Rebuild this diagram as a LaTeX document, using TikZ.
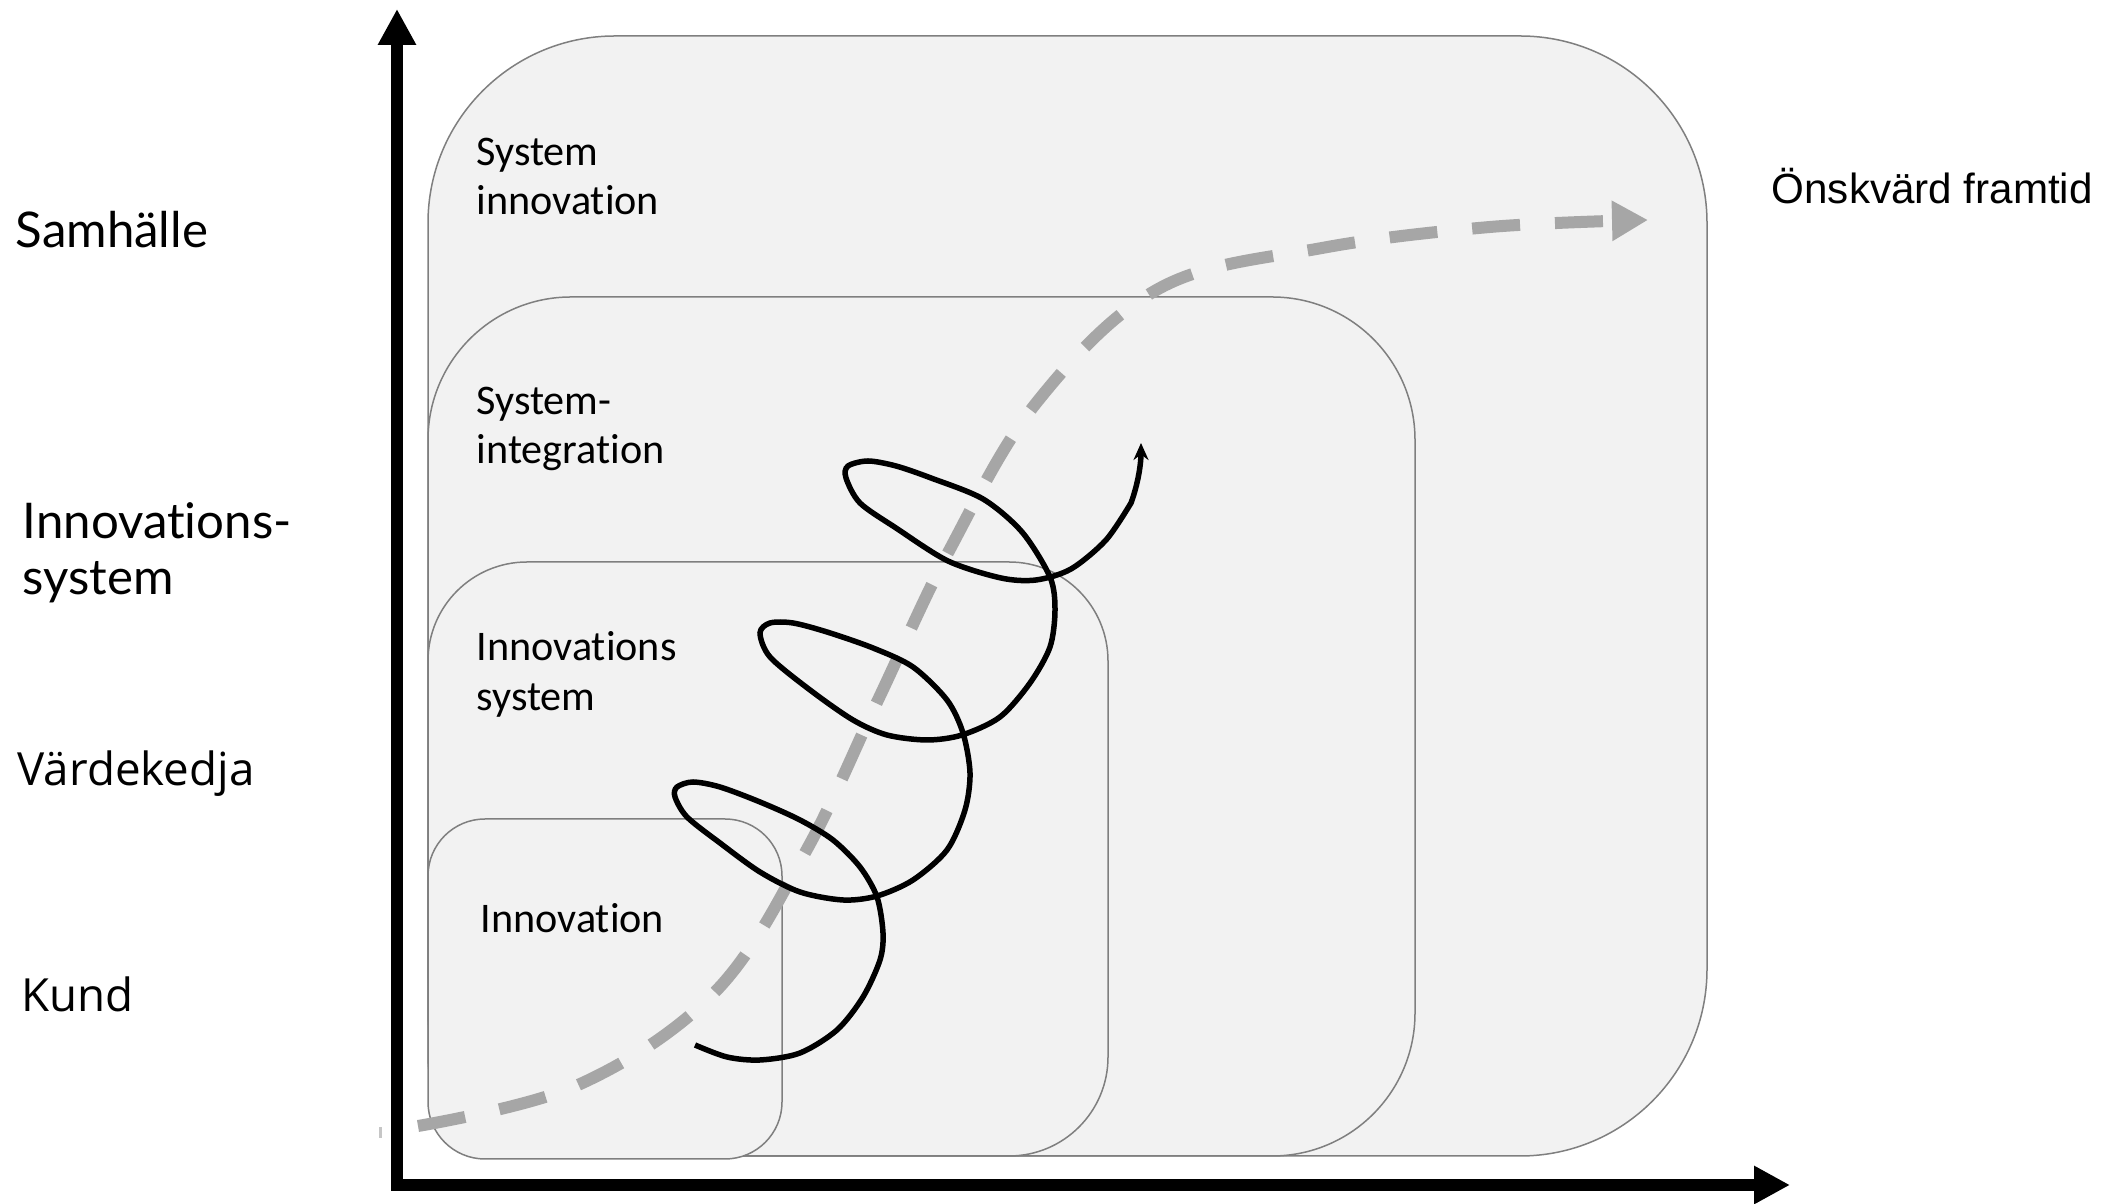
\documentclass[tikz,border=0pt]{standalone}
\usepackage{fontspec}
\setmainfont{Carlito}[Ligatures=NoCommon]
\newfontfamily\latofont{Lato}[Ligatures=NoCommon]
\newfontfamily\opensansfont{Open Sans}
\newfontfamily\arialfont{Liberation Sans}
\usetikzlibrary{arrows.meta}

\definecolor{boxfill}{HTML}{F2F2F2}
\definecolor{boxline}{HTML}{7F7F7F}
\definecolor{trendgray}{HTML}{A6A6A6}

\begin{document}
\begin{tikzpicture}[
        box/.style={draw=boxline, fill=boxfill, line width=0.15mm},
        boxtext/.style={inner sep=0pt, align=left, font=\fontsize{12}{14.2}\selectfont},
        leveltext/.style={inner sep=0pt, anchor=base west, font=\opensansfont\fontsize{13}{15.6}\selectfont},
        axis/.style={line width=1.15mm, {Triangle[length=3.6mm, width=3.6mm]}-{Triangle[length=3.6mm, width=3.6mm]}},
        trend/.style={trendgray, line width=1.2mm, dash pattern=on 4.8mm off 3.5mm, -{Triangle[length=3.6mm, width=3.8mm]}},
        spiral/.style={line width=0.55mm, -{Stealth[length=1.7mm, width=1.5mm]}}
    ]
    \useasboundingbox (0,0) rectangle (21.13,12.04);

    % levels, biggest first
    \draw[box, rounded corners=1.87cm] (4.28,0.48) rectangle (17.07,11.68);
    \draw[box, rounded corners=1.43cm] (4.28,0.48) rectangle (14.15,9.07);
    \draw[box, rounded corners=0.99cm] (4.28,0.48) rectangle (11.08,6.42);
    \draw[box, rounded corners=0.57cm] (4.28,0.45) rectangle (7.82,3.85);

    \node[boxtext, anchor=north west] (sysinnov) at (4.76,10.67) {System\\innovation};
    \node[boxtext, anchor=north west] (sysint) at (4.76,8.18) {System-\\integration};
    \node[boxtext, anchor=north west] (innovsys) at (4.76,5.73) {Innovations\\system};
    \node[boxtext, anchor=base west] (innov) at (4.80,2.71) {Innovation};

    % axes
    \coordinate (origin) at (3.97,0.19);
    \coordinate (ytop) at (3.97,11.95);
    \coordinate (xend) at (17.90,0.19);
    \draw[axis] (ytop) -- (origin) -- (xend);

    \node[inner sep=0pt, anchor=base west, font=\latofont\fontsize{14}{16}\selectfont] (samhalle) at (0.15,9.56) {Samhälle};
    \node[inner sep=0pt, anchor=north west, align=left, font=\latofont\fontsize{14}{15.9}\selectfont] (innovsystem) at (0.22,7.02) {Innovations-\\system};
    \node[leveltext] (vardekedja) at (0.17,4.18) {Värdekedja};
    \node[leveltext] (kund) at (0.21,1.92) {Kund};
    \node[inner sep=0pt, anchor=base west, font=\arialfont\fontsize{12}{14}\selectfont] (framtid) at (17.71,10.00) {Önskvärd framtid};

    \draw[gray!45, line width=0.3mm] (3.80,0.66) -- (3.80,0.77);

    % desired path
    \draw[trend] plot[smooth, tension=0.6] coordinates {(4.18,0.78) (5.78,1.19) (7.15,2.12) (8.06,3.53) (8.78,5.04) (9.50,6.55) (10.37,8.02) (11.60,9.16) (13.22,9.56) (14.90,9.77) (16.48,9.84)};

    % spiral
    \draw[spiral] plot[smooth, tension=0.5] coordinates {
        (6.95,1.59) (7.27,1.47) (7.60,1.44) (8.00,1.51) (8.37,1.74) (8.63,2.07) (8.80,2.44) (8.83,2.71)
        (8.77,3.07) (8.60,3.37) (8.33,3.64) (8.00,3.84) (7.60,4.02) (7.20,4.17) (6.93,4.22) (6.77,4.17)
        (6.75,4.07) (6.87,3.87) (7.20,3.61) (7.60,3.32) (8.00,3.12) (8.43,3.04) (8.77,3.08) (9.13,3.24)
        (9.47,3.54) (9.65,3.94) (9.70,4.31) (9.63,4.71) (9.47,5.04) (9.13,5.37) (8.73,5.56) (8.27,5.72)
        (7.93,5.81) (7.70,5.81) (7.60,5.71) (7.70,5.47) (8.10,5.14) (8.53,4.84) (8.87,4.69) (9.27,4.64)
        (9.62,4.69) (10.00,4.87) (10.30,5.21) (10.50,5.57) (10.55,5.94) (10.50,6.27) (10.22,6.72) (9.83,7.05)
        (9.31,7.26) (8.96,7.38) (8.68,7.43) (8.48,7.38) (8.46,7.26) (8.60,7.01) (8.96,6.76) (9.48,6.43)
        (10.01,6.26) (10.36,6.24) (10.71,6.35) (11.06,6.64) (11.31,7.01)}
        .. controls (11.38,7.20) and (11.41,7.40) .. (11.41,7.61);
\end{tikzpicture}
\end{document}
